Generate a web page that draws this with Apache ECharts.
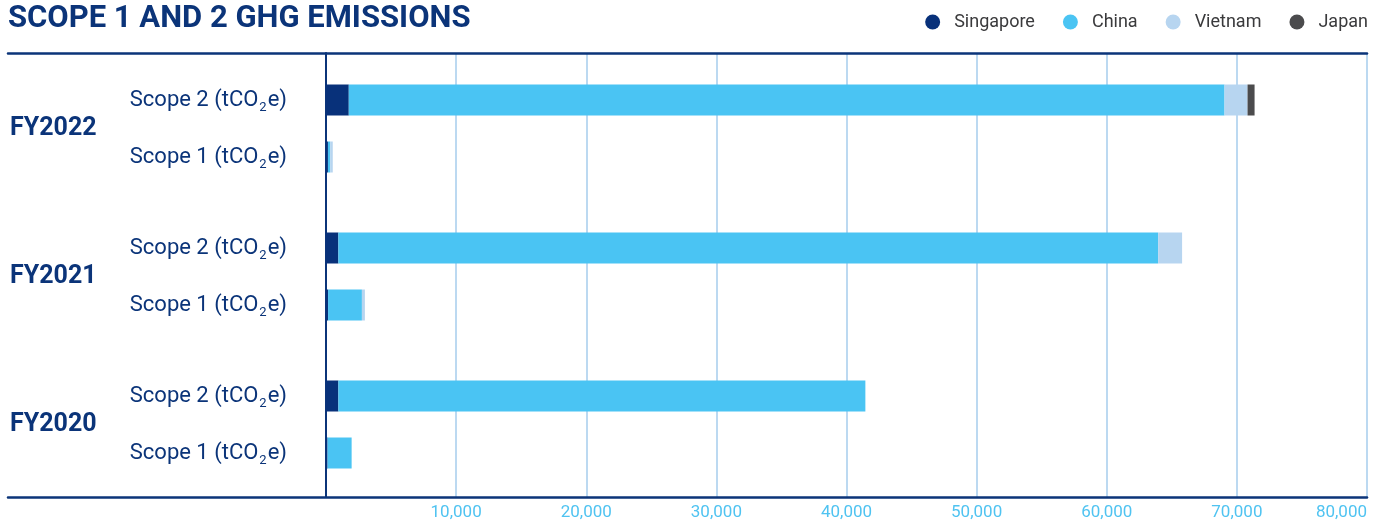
<!DOCTYPE html>
<html>
<head>
<meta charset="utf-8">
<style>
  html, body { margin: 0; padding: 0; background: #fff; }
  #chart { width: 1383px; height: 521px; }
</style>
<script src="https://cdn.jsdelivr.net/npm/echarts@6/dist/echarts.min.js"></script>
</head>
<body>
<div id="chart"></div>
<script>
// categories
const years = ['FY2022', 'FY2021', 'FY2020']
const scopes = ['Scope 2', 'Scope 1']
const xTicks = [0, 10000, 20000, 30000, 40000, 50000, 60000, 70000, 80000]

// values per year, [scope 2, scope 1] (tCO2e)
const singapore = [[1750, 150], [950, 160], [950, 120]]
const china = [[67300, 170], [63000, 2600], [40500, 1850]]
const vietnam = [[1770, 200], [1840, 230], [0, 0]]
const japan = [[540, 0], [0, 0], [0, 0]]

const countries = [
  { name: 'Singapore', color: '#08317a', data: singapore },
  { name: 'China', color: '#4ac4f3', data: china },
  { name: 'Vietnam', color: '#b7d5f0', data: vietnam },
  { name: 'Japan', color: '#4b4b4d', data: japan }
]

const navy = '#0b3479'
const font = 'Roboto'
const plotLeft = 326
const plotRight = 16
const xMax = xTicks[xTicks.length - 1]
const xStep = xTicks[1] - xTicks[0]

const chart = echarts.init(document.getElementById('chart'))

const grid = [
  // frame (top and bottom rules)
  { left: 8, right: plotRight, top: 53, height: 444 },
  // axis grid (gridlines, labels, vertical axis line)
  { left: plotLeft, right: plotRight, top: 53, height: 444 }
]
const xAxis = [
  { gridIndex: 0, type: 'value', position: 'bottom', min: 0, max: 1, axisLine: { show: true, onZero: false, lineStyle: { color: navy, width: 2.5 } }, axisTick: { show: false }, axisLabel: { show: false }, splitLine: { show: false } },
  { gridIndex: 0, type: 'value', position: 'top', min: 0, max: 1, axisLine: { show: true, onZero: false, lineStyle: { color: navy, width: 2.5 } }, axisTick: { show: false }, axisLabel: { show: false }, splitLine: { show: false } },
  {
    gridIndex: 1, type: 'value', min: 0, max: xMax, interval: xStep,
    axisLine: { show: false }, axisTick: { show: false },
    axisLabel: {
      color: '#4fc3f1', fontFamily: font, fontSize: 17, margin: 7, alignMaxLabel: 'right',
      formatter: v => v === 0 ? '' : v.toLocaleString('en-US')
    },
    splitLine: { show: true, lineStyle: { color: '#bcd9f1', width: 2 } }
  }
]
const yAxis = [
  { gridIndex: 0, type: 'value', show: false },
  {
    gridIndex: 1, type: 'category', data: [''],
    axisLine: { show: true, lineStyle: { color: navy, width: 2 } },
    axisTick: { show: false }, axisLabel: { show: false }
  }
]
const series = []

years.forEach((year, i) => {
  const g = grid.length
  grid.push({ left: plotLeft, right: plotRight, top: 71.5 + i * 148, height: 114 })
  const xi = xAxis.length
  xAxis.push({ gridIndex: g, type: 'value', min: 0, max: xMax, show: false })
  const yi = yAxis.length
  yAxis.push({
    gridIndex: g, type: 'category', inverse: true, data: scopes,
    axisLine: { show: false }, axisTick: { show: false },
    axisLabel: {
      margin: 39, color: navy, fontFamily: font, fontSize: 22,
      formatter: v => v + ' (tCO{sub|2}e)',
      rich: { sub: { fontSize: 13, fontFamily: font, color: navy, padding: [15, 1, 0, 1] } }
    }
  })
  yAxis.push({
    gridIndex: g, type: 'category', data: [year], position: 'left', offset: 0,
    axisLine: { show: false }, axisTick: { show: false },
    axisLabel: { margin: 316, align: 'left', color: navy, fontFamily: font, fontSize: 25, fontWeight: 'bold', padding: [6, 0, 0, 0] }
  })
  countries.forEach(c => {
    series.push({
      name: c.name, type: 'bar', stack: year, xAxisIndex: xi, yAxisIndex: yi,
      barWidth: 31, itemStyle: { color: c.color }, data: c.data[i],
      silent: true
    })
  })
})

chart.setOption({
  animation: false,
  title: {
    text: 'SCOPE 1 AND 2 GHG EMISSIONS', left: 3, top: -1,
    textStyle: { color: navy, fontFamily: font, fontSize: 31, fontWeight: 'bold' }
  },
  legend: {
    right: 10, top: 8, icon: 'circle', itemWidth: 15, itemHeight: 15, itemGap: 28,
    data: countries.map(c => c.name),
    textStyle: { color: '#3a3a3c', fontFamily: font, fontSize: 18, padding: [0, 0, 0, 9] }
  },
  grid: grid,
  xAxis: xAxis,
  yAxis: yAxis,
  series: series
})
</script>
</body>
</html>
